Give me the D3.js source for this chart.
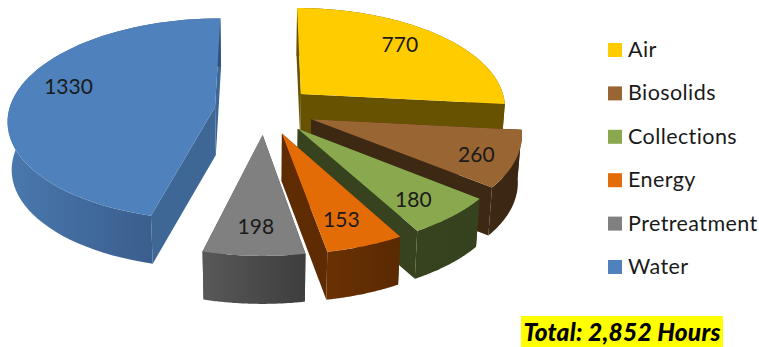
<!DOCTYPE html>
<html>
<head>
<meta charset="utf-8">
<script src="https://cdn.jsdelivr.net/npm/d3@7"></script>
<style>
  html, body { margin: 0; padding: 0; background: #fff; }
  svg { display: block; }
  text { font-family: Lato, "Open Sans", sans-serif; fill: #1a1a1a; }
</style>
</head>
<body>
<svg id="chart" width="759" height="347"></svg>
<script>
// Training hours by discipline
const categories = ["Air", "Biosolids", "Collections", "Energy", "Pretreatment", "Water"];
const hours = [770, 260, 180, 153, 198, 1330];
const totalLabel = "Total: 2,852 Hours";

// Face colours for each slice
const topColors = ["#ffcc00", "#996633", "#8aa84e", "#e36c06", "#808080", "#4f81bd"];
const cutColors = ["#665200", "#3d2814", "#37431f", "#5e2b02", "#4a4a4a", "#3e6796"];
const rimLight = ["#665200", "#3d2814", "#37431f", "#6a3103", "#585858", "#4a78ae"];
const rimDark = ["#665200", "#3a2612", "#36421e", "#5a2a02", "#3e3e3e", "#33527d"];

// Nudges that seat each value label on its slice
const labelNudge = [[4, -9], [28, 7], [14, 12], [5, 12], [-1, 12], [-10, -13]];
const labelReach = 0.68;

// Perspective view of the exploded pie
const view = { cx: 264.5, cy: 110, radius: 206, explode: 50, tilt: 0.485, depth: 48, lens: 0.12, taper: 0.016 };
const drawOrder = [0, 5, 1, 2, 3, 4];

const svg = d3.select("#chart");
const defs = svg.append("defs");
const slices = d3.pie().sort(null).value(d => d)(hours);
const outline = d3.line();

// Maps a point on a slice (angle, distance from its apex) to the screen; drop 0 is the top face.
function project(slice, angle, dist, drop) {
  const mid = (slice.startAngle + slice.endAngle) / 2;
  const x = dist * Math.sin(angle) + view.explode * Math.sin(mid);
  const y = -dist * Math.cos(angle) - view.explode * Math.cos(mid);
  const s = 1 / (1 - view.lens * y / view.radius);
  const shrink = 1 - view.taper * drop / view.depth;
  return [view.cx + x * s * shrink, view.cy + y * view.tilt * s + drop];
}

function arcPoints(slice, drop) {
  return d3.range(0, 61).map(i => {
    const a = slice.startAngle + (slice.endAngle - slice.startAngle) * i / 60;
    return project(slice, a, view.radius, drop);
  });
}

function drawSlice(g, slice, i) {
  const top = arcPoints(slice, 0);
  const bottom = arcPoints(slice, view.depth);
  const apexTop = project(slice, 0, 0, 0);
  const apexBottom = project(slice, 0, 0, view.depth);
  const face = (pts, fill) => g.append("path").attr("d", outline(pts) + "Z").attr("fill", fill);

  // Cut faces go first so the rim and the top can overlap them
  face([apexTop, top[0], bottom[0], apexBottom], cutColors[i]);
  face([apexTop, top[60], bottom[60], apexBottom], cutColors[i]);

  const xs = d3.extent(top.concat(bottom), p => p[0]);
  const grad = defs.append("linearGradient")
    .attr("id", "rim" + i)
    .attr("gradientUnits", "userSpaceOnUse")
    .attr("x1", xs[0]).attr("x2", xs[1]).attr("y1", 0).attr("y2", 0);
  grad.append("stop").attr("offset", 0).attr("stop-color", rimLight[i]);
  grad.append("stop").attr("offset", 1).attr("stop-color", rimDark[i]);

  face(top.concat(bottom.slice().reverse()), `url(#rim${i})`);
  face([apexTop].concat(top), topColors[i]);
}

drawOrder.forEach(i => {
  drawSlice(svg.append("g").attr("class", "slice " + categories[i]), slices[i], i);
});

// Value labels sit on the top faces
const labelLayer = svg.append("g").attr("class", "values");
slices.forEach((slice, i) => {
  const mid = (slice.startAngle + slice.endAngle) / 2;
  const p = project(slice, mid, view.radius * labelReach, 0);
  labelLayer.append("text")
    .attr("x", p[0] + labelNudge[i][0])
    .attr("y", p[1] + labelNudge[i][1])
    .attr("text-anchor", "middle")
    .attr("dominant-baseline", "central")
    .attr("font-size", 21)
    .text(hours[i]);
});

// Legend
const legendY = d3.scalePoint().domain(categories).range([50, 267]);
const legend = svg.append("g").attr("class", "legend");
categories.forEach((c, i) => {
  legend.append("rect")
    .attr("x", 608).attr("y", legendY(c) - 7)
    .attr("width", 14).attr("height", 14)
    .attr("fill", topColors[i]);
  legend.append("text")
    .attr("x", 628).attr("y", legendY(c) + 7)
    .attr("font-size", 21.5)
    .attr("letter-spacing", 0.42)
    .text(c);
});

// Highlighted total
svg.append("rect").attr("x", 521).attr("y", 316).attr("width", 202).attr("height", 31).attr("fill", "#ffff00");
svg.append("text")
  .attr("x", 622).attr("y", 341)
  .attr("text-anchor", "middle")
  .attr("font-size", 24.5)
  .attr("font-weight", 900)
  .attr("font-style", "italic")
  .attr("letter-spacing", 0.22)
  .style("fill", "#000")
  .text(totalLabel);
</script>
</body>
</html>
